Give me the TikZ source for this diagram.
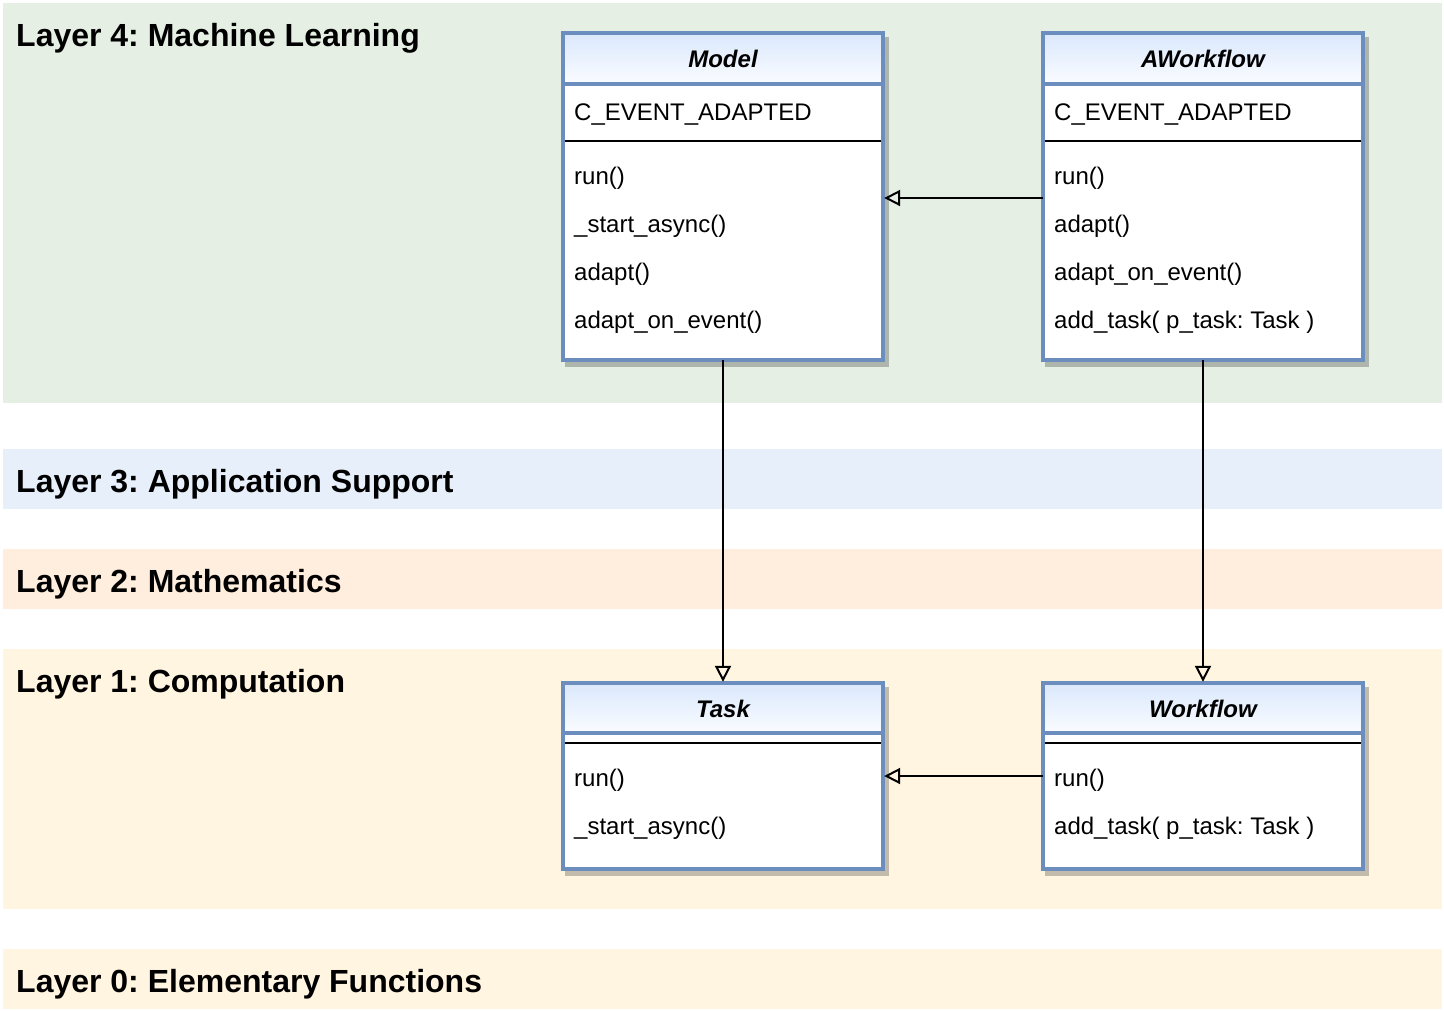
\documentclass[tikz,border=0pt]{standalone}
\usepackage{fontspec}
\setmainfont{Liberation Sans}
\usetikzlibrary{arrows.meta,calc}
\definecolor{bandfour}{HTML}{E5EFE4}
\definecolor{bandthree}{HTML}{E7EFFB}
\definecolor{bandtwo}{HTML}{FFEEDD}
\definecolor{bandone}{HTML}{FFF5E0}
\definecolor{boxblue}{HTML}{6C8EBF}
\definecolor{hdrtop}{HTML}{DAE8FC}
\definecolor{hdrbot}{HTML}{FAFCFF}
\frenchspacing
\begin{document}
\begin{tikzpicture}[x=1pt,y=-1pt,
  band/.style={draw=none,inner sep=0pt,outer sep=0pt,minimum width=1439pt,anchor=north west},
  bandtitle/.style={inner sep=0pt,anchor=base west,font=\fontsize{32}{38}\selectfont\bfseries},
  classbox/.style={inner sep=0pt,outer sep=0pt,minimum width=320pt,anchor=north west},
  boxline/.style={draw=boxblue,line width=3.3pt},
  sepline/.style={draw=black,line width=1.6pt},
  shadowc/.style={fill=black,opacity=0.24},
  member/.style={inner sep=0pt,anchor=base west,font=\fontsize{24}{28}\selectfont},
  ctitle/.style={inner sep=0pt,anchor=base,font=\fontsize{24}{28}\selectfont\bfseries\itshape},
  inh/.style={draw=black,line width=2pt,-{Triangle[open,length=16pt,width=16pt,line width=2pt]},shorten >=1.2pt}
]
\useasboundingbox (0,0) rectangle (1444,1010);
% layer bands
\node[band,fill=bandfour,minimum height=400pt] (L4) at (3,3) {};
\node[band,fill=bandthree,minimum height=60pt] (L3) at (3,449) {};
\node[band,fill=bandtwo,minimum height=60pt] (L2) at (3,549) {};
\node[band,fill=bandone,minimum height=260pt] (L1) at (3,649) {};
\node[band,fill=bandone,minimum height=60pt] (L0) at (3,949) {};
\node[bandtitle] (t4) at (16,46.5) {Layer 4: Machine Learning};
\node[bandtitle] (t3) at (16,492) {Layer 3: Application Support};
\node[bandtitle] (t2) at (16,592) {Layer 2: Mathematics};
\node[bandtitle] (t1) at (16,692) {Layer 1: Computation};
\node[bandtitle] (t0) at (16,992) {Layer 0: Elementary Functions};
% class frames (geometry only)
\node[classbox,minimum height=327pt] (model) at (563,33) {};
\node[classbox,minimum height=327pt] (awf) at (1043,33) {};
\node[classbox,minimum height=186pt] (task) at (563,683) {};
\node[classbox,minimum height=186pt] (wf) at (1043,683) {};
% shadows
\foreach \c in {model,awf,task,wf}{
  \fill[shadowc] ($(\c.north west)+(2.4,3.9)$) rectangle ($(\c.south east)+(5.6,7.1)$);
}
% bodies
\foreach \c/\hd/\sp in {model/51/108,awf/51/108,task/50/60,wf/50/60}{
  \fill[white] (\c.north west) rectangle (\c.south east);
  \shade[top color=hdrtop,bottom color=hdrbot] (\c.north west) rectangle ($(\c.north east)+(0,\hd)$);
  \draw[boxline] ($(\c.north west)+(0,\hd)$) -- ($(\c.north east)+(0,\hd)$);
  \draw[sepline] ($(\c.north west)+(0,\sp)$) -- ($(\c.north east)+(0,\sp)$);
  \draw[boxline] (\c.north west) rectangle (\c.south east);
}
% titles
\node[ctitle] (model-t) at (723,67.5) {Model};
\node[ctitle] (awf-t) at (1203,67.5) {AWorkflow};
\node[ctitle] (task-t) at (723,717.5) {Task};
\node[ctitle] (wf-t) at (1203,717.5) {Workflow};
% Model members
\node[member] (model-a) at (574,120) {C\_EVENT\_ADAPTED};
\node[member] (model-m1) at (574,184) {run()};
\node[member] (model-m2) at (574,232) {\_start\_async()};
\node[member] (model-m3) at (574,280) {adapt()};
\node[member] (model-m4) at (574,328) {adapt\_on\_event()};
% AWorkflow members
\node[member] (awf-a) at (1054,120) {C\_EVENT\_ADAPTED};
\node[member] (awf-m1) at (1054,184) {run()};
\node[member] (awf-m2) at (1054,232) {adapt()};
\node[member] (awf-m3) at (1054,280) {adapt\_on\_event()};
\node[member] (awf-m4) at (1054,328) {add\_task( p\_task: Task )};
% Task members
\node[member] (task-m1) at (574,786) {run()};
\node[member] (task-m2) at (574,834) {\_start\_async()};
% Workflow members
\node[member] (wf-m1) at (1054,786) {run()};
\node[member] (wf-m2) at (1054,834) {add\_task( p\_task: Task )};
% inheritance connectors
\draw[inh] ($(awf.west)+(0,1.5)$) -- ($(model.east)+(0,1.5)$);
\draw[inh] (model.south) -- (task.north);
\draw[inh] (awf.south) -- (wf.north);
\draw[inh] (wf.west) -- (task.east);
\end{tikzpicture}
\end{document}
